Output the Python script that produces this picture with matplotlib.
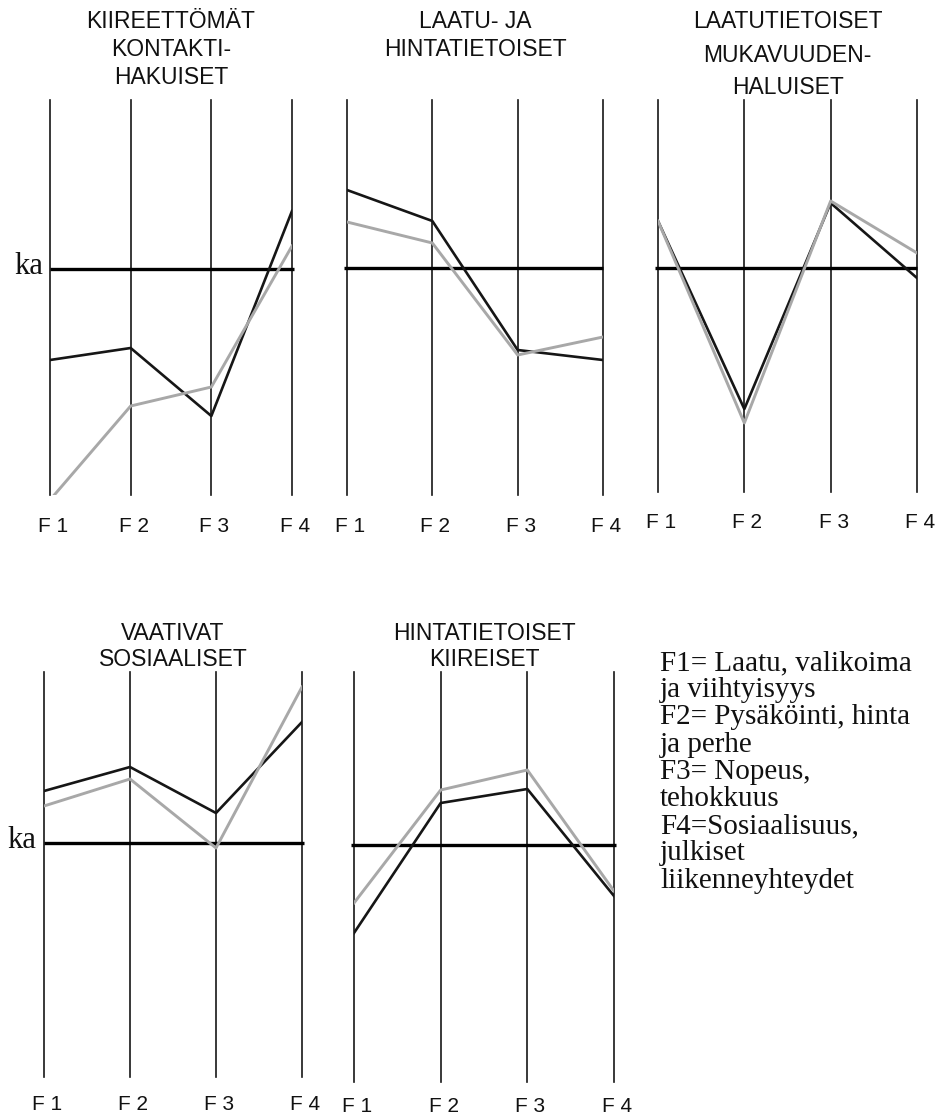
import matplotlib
matplotlib.use("Agg")
import matplotlib.pyplot as plt

# ---------------- data ----------------
factors = ["F 1", "F 2", "F 3", "F 4"]

titles = [
    "KIIREETTÖMÄT\nKONTAKTI-\nHAKUISET",
    "LAATU- JA\nHINTATIETOISET",
    "LAATUTIETOISET\nMUKAVUUDEN-\nHALUISET",
    "VAATIVAT\nSOSIAALISET",
    "HINTATIETOISET\nKIIREISET",
]

# deviation from the mean ("ka"), arbitrary units
black_kiireettomat = [-0.91, -0.79, -1.47, 0.58]
gray_kiireettomat = [-2.31, -1.37, -1.18, 0.23]

black_laatu_hinta = [0.78, 0.47, -0.82, -0.92]
gray_laatu_hinta = [0.46, 0.25, -0.87, -0.69]

black_mukavuus = [0.47, -1.41, 0.65, -0.10]
gray_mukavuus = [0.47, -1.55, 0.67, 0.15]

black_vaativat = [0.52, 0.76, 0.30, 1.21]
gray_vaativat = [0.37, 0.64, -0.05, 1.56]

black_kiireiset = [-0.88, 0.42, 0.56, -0.51]
gray_kiireiset = [-0.58, 0.55, 0.75, -0.46]

legend_lines = [
    "F1= Laatu, valikoima",
    "ja viihtyisyys",
    "F2= Pysäköinti, hinta",
    "ja perhe",
    "F3= Nopeus,",
    "tehokkuus",
    "F4=Sosiaalisuus,",
    "julkiset",
    "liikenneyhteydet",
]

black_series = [black_kiireettomat, black_laatu_hinta, black_mukavuus,
                black_vaativat, black_kiireiset]
gray_series = [gray_kiireettomat, gray_laatu_hinta, gray_mukavuus,
               gray_vaativat, gray_kiireiset]

# ---------------- layout (pixels) ----------------
W, H = 936, 1120
# (x of F1, x of F4, y top, y bottom, ylim top, ylim bottom)
panels = [
    (50, 292, 100, 495, 1.69, -2.26),
    (347, 603, 100, 495, 1.68, -2.27),
    (658, 917, 100, 492, 1.68, -2.24),
    (44, 302, 672, 1077, 1.71, -2.34),
    (354, 614, 672, 1082, 1.73, -2.37),
]
title_y = [22, 22, 22, 633, 633]
title_spacing = [28, 28, 33, 27, 27]
label_y = [527, 527, 522, 1105, 1107]
ka_ext = [(-0.0, 3.02), (-0.03, 3.0), (-0.03, 3.0), (-0.0, 3.02), (-0.03, 3.02)]

SANS = ["Liberation Sans", "DejaVu Sans"]
SERIF = ["Liberation Serif", "DejaVu Serif"]
GRAY = "#a8a8a8"
BLACK = "#161616"

fig = plt.figure(figsize=(W / 100, H / 100), dpi=100)
fig.patch.set_facecolor("white")

xs = list(range(len(factors)))

for i, (x1, x4, yt, yb, ytop, ybot) in enumerate(panels):
    ax = fig.add_axes([x1 / W, 1 - yb / H, (x4 - x1) / W, (yb - yt) / H])
    ax.set_xlim(0, 3)
    ax.set_ylim(ybot, ytop)
    ax.axis("off")
    for x in xs:
        ax.axvline(x, color=BLACK, lw=1.2, zorder=1, clip_on=False)
    ax.plot(list(ka_ext[i]), [0, 0], color="black", lw=2.4, zorder=2,
            clip_on=False, solid_capstyle="butt")
    ax.plot(xs, black_series[i], color=BLACK, lw=1.9, zorder=3)
    ax.plot(xs, gray_series[i], color=GRAY, lw=2.1, zorder=4)

    # titles
    cx = (x1 + x4) / 2
    for j, line in enumerate(titles[i].split("\n")):
        fig.text(cx / W, 1 - (title_y[i] + j * title_spacing[i]) / H, line,
                 ha="center", va="center", fontsize=16.5, family=SANS,
                 color="#111111")
    # factor labels
    step = (x4 - x1) / 3
    for k, lab in enumerate(factors):
        fig.text((x1 + k * step + 3) / W, 1 - label_y[i] / H, lab,
                 ha="center", va="center", fontsize=15, family=SANS,
                 color="#111111")

# "ka" labels
fig.text(29 / W, 1 - 267 / H, "ka", ha="center", va="center",
         fontsize=22, family=SERIF, color="#111111")
fig.text(22 / W, 1 - 841 / H, "ka", ha="center", va="center",
         fontsize=22, family=SERIF, color="#111111")

# factor explanation text
for j, line in enumerate(legend_lines):
    fig.text(660 / W, 1 - (663 + j * 27.2) / H, line, ha="left", va="center",
             fontsize=21, family=SERIF, color="#111111")

fig.savefig("out.png", dpi=100, facecolor="white")
